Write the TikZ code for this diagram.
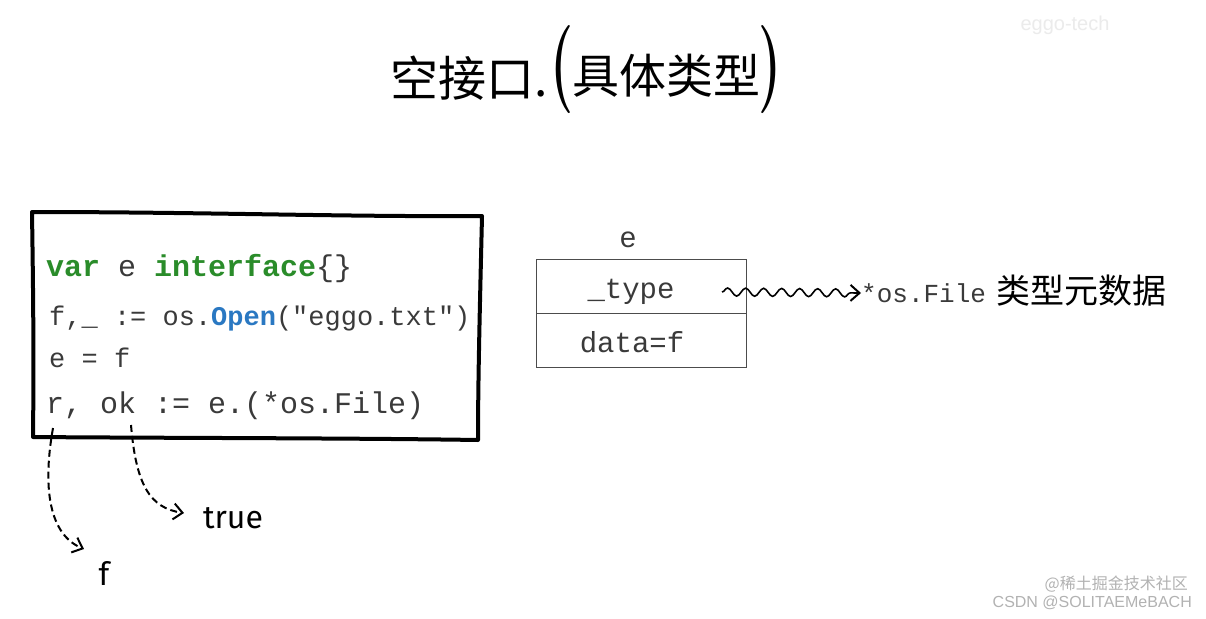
\documentclass[tikz,border=0pt]{standalone}
\usepackage{fontspec}
\setmonofont{Liberation Mono}
\newfontfamily\cjk{Noto Sans CJK SC}
\newfontfamily\hand{Fira Sans}
\newfontfamily\wmfont{Liberation Sans}
\usetikzlibrary{arrows.meta,decorations.pathmorphing}
\definecolor{kwgreen}{HTML}{2A8C2A}
\definecolor{fnblue}{HTML}{2A78C2}
\definecolor{codegray}{HTML}{3A3A3A}
\tikzset{
  codeline/.style={anchor=base west, inner sep=0pt, text=codegray, font=\ttfamily\fontsize{#1}{#1}\selectfont},
  memtext/.style={inner sep=0pt, text=codegray, font=\ttfamily\fontsize{29}{29}\selectfont},
  handtext/.style={inner sep=0pt, font=\hand\fontsize{32}{32}\selectfont},
  barb/.style={-{Straight Barb[length=9pt,width=16pt,line width=2pt]}},
  dasharrow/.style={dash pattern=on 7pt off 4pt, line width=2pt, barb},
  bigparen/.style={inner sep=0pt, font=\bfseries\fontsize{88}{88}\selectfont, xscale=0.6},
  watermark/.style={inner sep=0pt, text=black!30, font=\wmfont\fontsize{16}{16}\selectfont}
}
\begin{document}
\begin{tikzpicture}[x=1pt,y=-1pt]
\useasboundingbox (0,0) rectangle (1206,618);
\fill[white] (0,0) rectangle (1206,618);

% title
\node[inner sep=0pt, anchor=east, font=\cjk\fontsize{48}{48}\selectfont] (t1) at (548,78) {空接口.};
\node[bigparen] (lp) at (562,70) {(};
\node[inner sep=0pt, anchor=west, font=\cjk\fontsize{47}{47}\selectfont] (t2) at (572,76) {具体类型};
\node[bigparen] (rp) at (770,70) {)};

% code box
\draw[line width=4pt, line join=round, line cap=round]
  (32,212) .. controls (200,212) and (350,217) .. (482,216)
  .. controls (480,300) and (478,380) .. (478,440)
  .. controls (350,438) and (150,438) .. (33,437)
  .. controls (34,350) and (33,280) .. (32,212) -- cycle;

\node[codeline=30] (v) at (46,276) {\textbf{\textcolor{kwgreen}{var}} e \textbf{\textcolor{kwgreen}{interface}}\{\}};
\node[codeline=27] (fl) at (49,325) {f,\_ := os.\textbf{\textcolor{fnblue}{Open}}("eggo.txt")};
\node[codeline=27] (ef) at (49,367) {e = f};
\node[codeline=30] (rl) at (46,413) {r, ok := e.(*os.File)};

\coordinate (rpt) at (53,428);
\coordinate (okpt) at (131,425);
\node[handtext] (flab) at (104,573) {f};
\node[handtext] (tlab) at (233,518) {true};
\coordinate (fend) at (84,549);
\coordinate (tend) at (184,513);
\draw[dasharrow] (rpt) .. controls (42,490) and (50,535) .. (fend);
\draw[dasharrow] (okpt) .. controls (136,485) and (150,508) .. (tend);

% memory box
\node[memtext] (elab) at (628,240) {e};
\draw[line width=0.9pt, draw=black!70] (536,259) rectangle (746,367);
\draw[line width=0.9pt, draw=black!70] (536,313) -- (746,313);
\node[memtext, anchor=base] (ty) at (631,298) {\_type};
\node[memtext, anchor=base] (da) at (632,352) {data=f};

\coordinate (wstart) at (722,292);
\node[inner sep=0pt, anchor=west, text=codegray, font=\ttfamily\fontsize{26}{26}\selectfont] (meta) at (861,293) {*os.File};
\node[inner sep=0pt, anchor=west, font=\cjk\fontsize{34}{34}\selectfont] (meta2) at (996,291) {类型元数据};
\draw[line width=1.6pt, barb,
  decorate, decoration={snake, segment length=18pt, amplitude=4pt, post length=10pt}]
  (wstart) -- (meta.west);

% watermarks
\node[inner sep=0pt, text=black!8, font=\wmfont\fontsize{20}{20}\selectfont] (wm0) at (1065,25) {eggo-tech};
\node[watermark, font=\cjk\fontsize{16}{16}\selectfont, anchor=east] (wm1) at (1188,584) {@稀土掘金技术社区};
\node[watermark, anchor=east] (wm2) at (1192,603) {CSDN @SOLITAEMeBACH};
\end{tikzpicture}
\end{document}
